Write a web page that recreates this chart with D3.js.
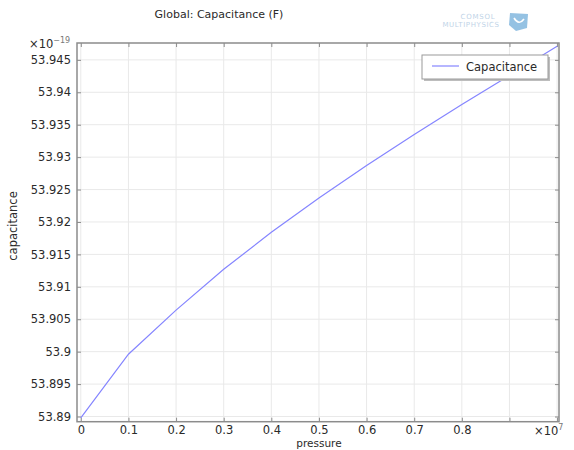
<!DOCTYPE html>
<html>
<head>
<meta charset="utf-8">
<script src="https://cdn.jsdelivr.net/npm/d3@7"></script>
<style>
  html, body { margin: 0; padding: 0; background: #fff; }
  svg { display: block; font-family: "DejaVu Sans", sans-serif; }
</style>
</head>
<body>
<svg id="chart" width="574" height="450"></svg>
<script>
// Pressure sweep (×10^7 Pa) and the resulting global capacitance (×10^-19 F)
const pressure = [0, 0.1, 0.2, 0.3, 0.4, 0.5, 0.6, 0.7, 0.8, 0.9, 1.0];
const capacitance = [53.8898, 53.8996, 53.9064, 53.9127, 53.9184, 53.9237,
                     53.9287, 53.9335, 53.9381, 53.9426, 53.9471];

const xTicks = [0, 0.1, 0.2, 0.3, 0.4, 0.5, 0.6, 0.7, 0.8, 0.9, 1.0];
const xTickLabels = ["0", "0.1", "0.2", "0.3", "0.4", "0.5", "0.6", "0.7", "0.8", "", ""];
const yTicks = [53.89, 53.895, 53.9, 53.905, 53.91, 53.915, 53.92, 53.925,
                53.93, 53.935, 53.94, 53.945];
const yTickLabels = ["53.89", "53.895", "53.9", "53.905", "53.91", "53.915", "53.92",
                     "53.925", "53.93", "53.935", "53.94", "53.945"];

const plot = { left: 77, right: 559, top: 43, bottom: 421.7 };

const x = d3.scaleLinear().domain([-0.008, 1.004]).range([plot.left, plot.right]);
const y = d3.scaleLinear().domain([53.8892, 53.9476]).range([plot.bottom, plot.top]);

const svg = d3.select("#chart");
const textColor = "#2a2a2a";
const fontSize = 11.5;

// Title
svg.append("text")
  .attr("x", 219).attr("y", 18)
  .attr("text-anchor", "middle")
  .attr("font-size", 11)
  .attr("fill", textColor)
  .text("Global: Capacitance (F)");

// Faint software logo, top right
const logo = svg.append("g").attr("opacity", 0.5);
logo.append("text").attr("x", 478).attr("y", 19).attr("text-anchor", "middle")
  .attr("font-size", 7).attr("fill", "#7fa9cf").attr("letter-spacing", 0.8).text("COMSOL");
logo.append("text").attr("x", 471).attr("y", 27).attr("text-anchor", "middle")
  .attr("font-size", 7).attr("fill", "#7fa9cf").attr("letter-spacing", 0.6).text("MULTIPHYSICS");
logo.append("path")
  .attr("d", "M510,13 L528,14 L527,28 L516,31 L509,25 Z")
  .attr("fill", "#2e86c9");
logo.append("path")
  .attr("d", "M514,18 Q519,26 524,19")
  .attr("fill", "none").attr("stroke", "#fff").attr("stroke-width", 1.6);

// Grid lines
const grid = svg.append("g").attr("stroke", "#e9e9e9").attr("stroke-width", 1);
grid.selectAll("line.gx").data(xTicks).join("line")
  .attr("x1", d => x(d)).attr("x2", d => x(d))
  .attr("y1", plot.top).attr("y2", plot.bottom);
grid.selectAll("line.gy").data(yTicks).join("line")
  .attr("x1", plot.left).attr("x2", plot.right)
  .attr("y1", d => y(d)).attr("y2", d => y(d));

// Axes with inward ticks on all four sides
function styleAxis(g) {
  g.select(".domain").remove();
  g.selectAll(".tick line").attr("stroke", "#8c8c8c").attr("stroke-width", 1);
  g.selectAll(".tick text").attr("fill", textColor).attr("font-size", fontSize)
    .attr("font-family", "DejaVu Sans, sans-serif");
}

svg.append("g")
  .attr("transform", `translate(0,${plot.bottom})`)
  .call(d3.axisBottom(x).tickValues(xTicks).tickSize(-4).tickPadding(4.5)
    .tickFormat((d, i) => xTickLabels[i]))
  .call(styleAxis);

svg.append("g")
  .attr("transform", `translate(0,${plot.top})`)
  .call(d3.axisTop(x).tickValues(xTicks).tickSize(-4).tickFormat(""))
  .call(styleAxis);

svg.append("g")
  .attr("transform", `translate(${plot.left},0)`)
  .call(d3.axisLeft(y).tickValues(yTicks).tickSize(-4).tickPadding(6)
    .tickFormat((d, i) => yTickLabels[i]))
  .call(styleAxis);

svg.append("g")
  .attr("transform", `translate(${plot.right},0)`)
  .call(d3.axisRight(y).tickValues(yTicks).tickSize(-4).tickFormat(""))
  .call(styleAxis);

// Plot frame
svg.append("rect")
  .attr("x", plot.left).attr("y", plot.top)
  .attr("width", plot.right - plot.left).attr("height", plot.bottom - plot.top)
  .attr("fill", "none").attr("stroke", "#8c8c8c").attr("stroke-width", 1.5);

// Data line
const data = pressure.map((p, i) => ({ p, c: capacitance[i] }));
svg.append("path")
  .datum(data)
  .attr("fill", "none")
  .attr("stroke", "#8585ff")
  .attr("stroke-width", 1.2)
  .attr("d", d3.line().x(d => x(d.p)).y(d => y(d.c)));

// Axis scale multipliers
const mulY = svg.append("text").attr("x", 29).attr("y", 48)
  .attr("font-size", fontSize).attr("fill", textColor);
mulY.append("tspan").text("×10");
mulY.append("tspan").attr("font-size", 8).attr("dy", -5).attr("fill", "#777").text("−19");

const mulX = svg.append("text").attr("x", 534).attr("y", 435)
  .attr("font-size", fontSize).attr("fill", textColor);
mulX.append("tspan").text("×10");
mulX.append("tspan").attr("font-size", 8).attr("dy", -5).attr("fill", "#777").text("7");

// Axis titles
svg.append("text")
  .attr("x", 319).attr("y", 447)
  .attr("text-anchor", "middle")
  .attr("font-size", 10.5)
  .attr("fill", textColor)
  .text("pressure");

svg.append("text")
  .attr("transform", "translate(17,226) rotate(-90)")
  .attr("text-anchor", "middle")
  .attr("font-size", fontSize).attr("fill", textColor)
  .text("capacitance");

// Legend
const legend = svg.append("g").attr("transform", "translate(422,55)");
legend.append("rect").attr("x", 2).attr("y", 2).attr("width", 126).attr("height", 24)
  .attr("fill", "#bdbdbd");
legend.append("rect").attr("x", 0).attr("y", 0).attr("width", 126).attr("height", 24)
  .attr("fill", "#fff").attr("stroke", "#9a9a9a").attr("stroke-width", 1);
legend.append("line").attr("x1", 10).attr("x2", 37).attr("y1", 11).attr("y2", 11)
  .attr("stroke", "#8585ff").attr("stroke-width", 1.2);
legend.append("text").attr("x", 44).attr("y", 15.5)
  .attr("font-size", fontSize).attr("fill", textColor)
  .text("Capacitance");
</script>
</body>
</html>
